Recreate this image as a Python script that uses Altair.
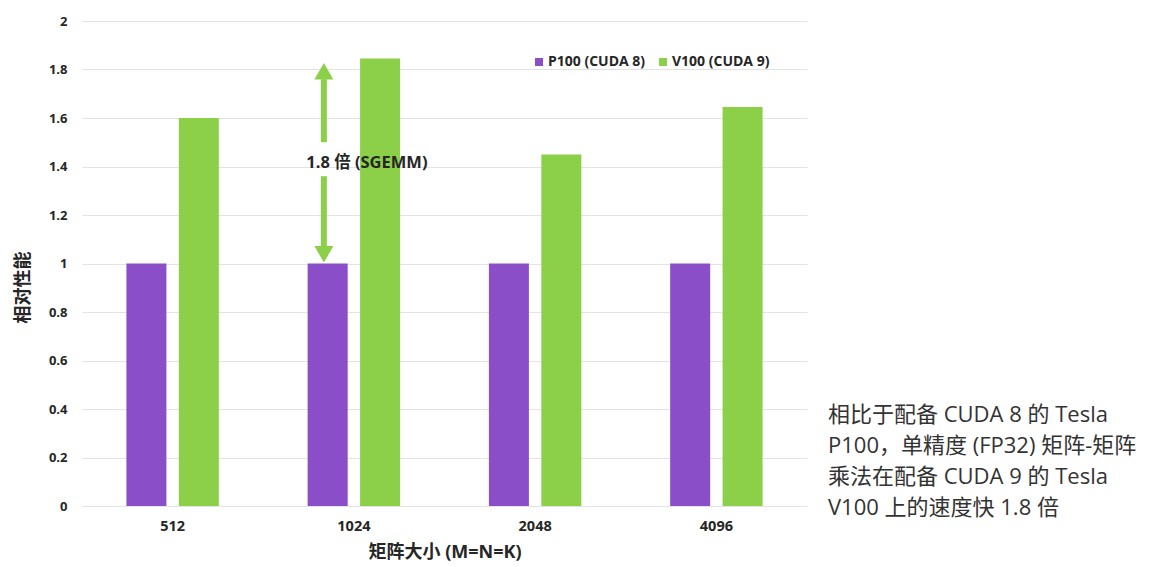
import altair as alt
import pandas as pd

# ---- data ----
sizes = ["512", "1024", "2048", "4096"]
series = ["P100 (CUDA 8)", "V100 (CUDA 9)"]
p100_values = [1.0, 1.0, 1.0, 1.0]
v100_values = [1.6, 1.845, 1.45, 1.645]
colors = ["#8A4FC8", "#8CD04A"]
y_ticks = [0, 0.2, 0.4, 0.6, 0.8, 1.0, 1.2, 1.4, 1.6, 1.8, 2.0]

annot_group = "1024"
annot_text = "1.8 倍 (SGEMM)"
annot_text_y = [1.416]
shaft_from = [1.50, 1.36]
shaft_to = [1.76, 1.07]
head_y = [1.793, 1.038]
head_shapes = ["triangle-up", "triangle-down"]

note_lines = [
    "相比于配备 CUDA 8 的 Tesla",
    "P100，单精度 (FP32) 矩阵-矩阵",
    "乘法在配备 CUDA 9 的 Tesla",
    "V100 上的速度快 1.8 倍",
]

FONT = "Open Sans, Noto Sans CJK SC"
TXT = "#262626"
GREEN = colors[1]

rows = []
for s, a, b in zip(sizes, p100_values, v100_values):
    rows.append({"size": s, "series": series[0], "value": a})
    rows.append({"size": s, "series": series[1], "value": b})
bar_df = pd.DataFrame(rows)

x_enc = alt.X(
    "size:N",
    sort=sizes,
    scale=alt.Scale(paddingInner=0.49, paddingOuter=0.245),
    axis=alt.Axis(
        title="矩阵大小 (M=N=K)",
        labelAngle=0,
        labelFont=FONT,
        labelFontSize=14.5,
        labelFontWeight="bold",
        labelColor=TXT,
        labelPadding=13,
        domain=False,
        ticks=False,
        titleFont=FONT,
        titleFontSize=18,
        titleFontWeight="bold",
        titleColor=TXT,
        titleY=46,
        titleBaseline="middle",
    ),
)
y_enc = alt.Y(
    "value:Q",
    scale=alt.Scale(domain=[0, 2], nice=False),
    axis=alt.Axis(
        title="相对性能",
        values=y_ticks,
        format="~g",
        labelFont=FONT,
        labelFontSize=13,
        labelFontWeight="bold",
        labelColor=TXT,
        labelPadding=15,
        domain=False,
        ticks=False,
        gridColor="#e3e3e3",
        gridWidth=1,
        titleFont=FONT,
        titleFontSize=18,
        titleFontWeight="bold",
        titleColor=TXT,
        titleX=-59,
        titleY=266,
        titleAlign="center",
        titleBaseline="middle",
    ),
)

bars = alt.Chart(bar_df).mark_bar().encode(
    x=x_enc,
    xOffset=alt.XOffset("series:N", sort=series, scale=alt.Scale(paddingInner=0.237, paddingOuter=0)),
    y=y_enc,
    color=alt.Color(
        "series:N",
        scale=alt.Scale(domain=series, range=colors),
        legend=alt.Legend(
            title=None,
            orient="none",
            legendX=450,
            legendY=34,
            direction="horizontal",
            symbolType="square",
            symbolSize=64,
            symbolStrokeWidth=0,
            labelFont=FONT,
            labelFontSize=14,
            labelFontWeight="bold",
            labelColor=TXT,
            labelOffset=2,
            columnPadding=10,
        ),
    ),
)

shaft_df = pd.DataFrame({"size": [annot_group] * 2, "value": shaft_from, "value2": shaft_to})
shafts = alt.Chart(shaft_df).mark_rule(color=GREEN, strokeWidth=6, xOffset=-30).encode(
    x=x_enc, y=y_enc, y2="value2:Q"
)

head_df = pd.DataFrame({"size": [annot_group] * 2, "value": head_y, "shape": head_shapes})
heads = alt.Chart(head_df).mark_point(
    filled=True, size=361, opacity=1, color=GREEN, strokeWidth=0, xOffset=-30
).encode(x=x_enc, y=y_enc, shape=alt.Shape("shape:N", scale=None))

label_df = pd.DataFrame({"size": [annot_group], "value": annot_text_y, "t": [annot_text]})
label = alt.Chart(label_df).mark_text(
    font=FONT, fontSize=16.5, fontWeight="bold", color=TXT, xOffset=13, align="center", baseline="middle"
).encode(x=x_enc, y=y_enc, text="t:N")

note_df = pd.DataFrame({"t": ["\n".join(note_lines)]})
note = alt.Chart(note_df).mark_text(
    font=FONT, fontSize=22, color="#333333", align="left", baseline="middle",
    lineBreak="\n", lineHeight=31
).encode(x=alt.value(746), y=alt.value(394), text="t:N")

chart = (
    alt.layer(bars, shafts, heads, label, note)
    .properties(
        width=725,
        height=485,
        autosize=alt.AutoSizeParams(type="none"),
        padding={"left": 82, "top": 21, "right": 345, "bottom": 61},
        background="white",
    )
    .configure_view(strokeWidth=0)
)

chart.save("out.html", embed_options={"renderer": "svg", "actions": False})
